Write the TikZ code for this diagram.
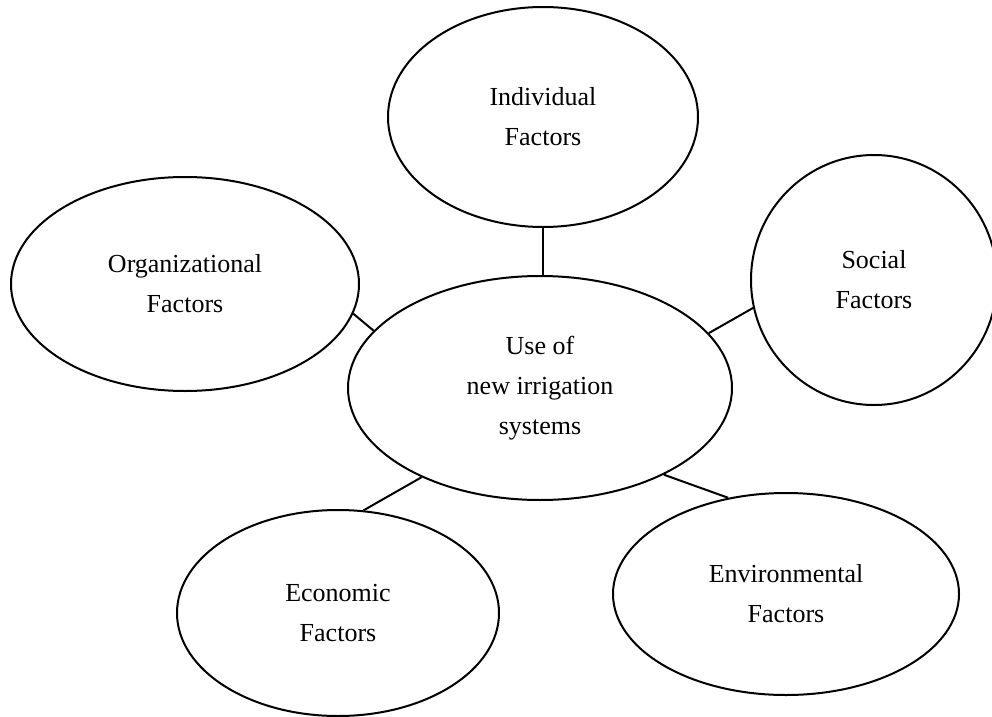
\documentclass[tikz,border=0pt]{standalone}
\usepackage{fontspec}
\setmainfont{Liberation Serif}
\usetikzlibrary{shapes.geometric}
\tikzstyle{bubble} = [ellipse, draw, line width=1.5pt, inner sep=0pt, align=center, font=\fontsize{19.5}{30}\selectfont]
\tikzstyle{link} = [line width=1.5pt]

\begin{document}
\begin{tikzpicture}[x=0.75pt,y=-0.75pt]
  \useasboundingbox (0,0) rectangle (992,717);
  \node (use) at (540,388) [bubble, minimum width=288pt, minimum height=168pt] {Use of\\ new irrigation\\ systems};
  \node (ind) at (543,117) [bubble, minimum width=232.5pt, minimum height=165pt] {Individual\\ Factors};
  \node (org) at (185,284) [bubble, minimum width=261pt, minimum height=160.5pt] {Organizational\\ Factors};
  \node (soc) at (874,280) [bubble, minimum width=184.5pt, minimum height=187.5pt] {Social\\ Factors};
  \node (eco) at (338,613) [bubble, minimum width=241.5pt, minimum height=154.5pt] {Economic\\ Factors};
  \node (env) at (786,594) [bubble, minimum width=259.5pt, minimum height=151.5pt] {Environmental\\ Factors};
  \draw [link] (ind.south) -- (ind.south |- use.north);
  \draw [link] (org.-10) -- (use.161);
  \draw [link] (soc.-167) -- (use.18);
  \draw [link] (eco.76) -- (use.-143);
  \draw [link] (env.121) -- (use.-35);
\end{tikzpicture}
\end{document}
